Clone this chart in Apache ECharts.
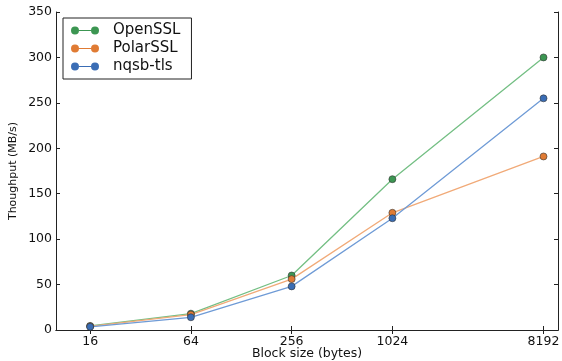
<!DOCTYPE html>
<html>
<head>
<meta charset="utf-8">
<script src="https://cdn.jsdelivr.net/npm/echarts@6/dist/echarts.min.js"></script>
<style>
  html, body { margin: 0; padding: 0; background: #fff; }
  #chart { width: 562px; height: 361px; }
</style>
</head>
<body>
<div id="chart"></div>
<script>
var blockSizes = [16, 64, 256, 1024, 8192];
var openssl = [4.5, 18, 60, 166, 300];
var polarssl = [4, 17, 56, 129, 191];
var nqsb = [3.5, 14, 48, 123, 255];

var myChart = echarts.init(document.getElementById('chart'));

function pairs(xs, ys) {
    var out = [];
    for (var i = 0; i < xs.length; i++) {
        out.push([xs[i], ys[i]]);
    }
    return out;
}

// two dots joined by a line, like the matplotlib legend handle
var legendIcon = 'path://M0,4a4,4 0 1,0 8,0a4,4 0 1,0 -8,0Z M20,4a4,4 0 1,0 8,0a4,4 0 1,0 -8,0Z M8,3.5h12v1h-12Z';

var font = 'DejaVu Sans';

var xBase = {
    type: 'log',
    logBase: 2,
    min: 10,
    max: 10000,
    splitLine: {show: false},
    axisLine: {lineStyle: {color: '#222', width: 1}},
    axisTick: {inside: true, length: 4, customValues: blockSizes, lineStyle: {color: '#222'}},
    minorTick: {show: false}
};

var yBase = {
    type: 'value',
    min: 0,
    max: 350,
    interval: 50,
    splitLine: {show: false},
    axisLine: {show: true, lineStyle: {color: '#222', width: 1}},
    axisTick: {show: true, inside: true, length: 4, lineStyle: {color: '#222'}}
};

function series(name, data, marker, line) {
    return {
        name: name,
        type: 'line',
        data: pairs(blockSizes, data),
        symbol: 'circle',
        symbolSize: 7,
        color: marker,
        itemStyle: {color: marker, borderColor: '#333', borderWidth: 0.6},
        lineStyle: {color: line, width: 1.3},
        z: 3
    };
}

var option = {
    animation: false,
    backgroundColor: '#fff',
    grid: {left: 56, right: 4, top: 12, bottom: 31, outerBoundsMode: 'none', containLabel: false},
    legend: {
        left: 63,
        top: 18,
        orient: 'vertical',
        icon: legendIcon,
        itemWidth: 28,
        itemHeight: 8,
        itemGap: 3,
        padding: [5, 11, 5, 8],
        borderColor: '#222',
        borderWidth: 1,
        backgroundColor: '#fff',
        itemStyle: {borderWidth: 0},
        textStyle: {fontFamily: font, fontSize: 15, color: '#111', padding: [0, 0, 0, 9]},
        data: ['OpenSSL', 'PolarSSL', 'nqsb-tls']
    },
    xAxis: [
        Object.assign({}, xBase, {
            position: 'bottom',
            name: 'Block size (bytes)',
            nameLocation: 'middle',
            nameGap: 17,
            nameMoveOverlap: false,
            nameTextStyle: {fontFamily: font, fontSize: 12.5, color: '#111'},
            axisLabel: {
                customValues: blockSizes,
                fontFamily: font, fontSize: 12.5, color: '#111', margin: 5,
                formatter: function (v) { return String(Math.round(v)); }
            }
        }),
        Object.assign({}, xBase, {
            position: 'top',
            axisLabel: {show: false}
        })
    ],
    yAxis: [
        Object.assign({}, yBase, {
            position: 'left',
            name: 'Thoughput (MB/s)',
            nameLocation: 'middle',
            nameGap: 37,
            nameMoveOverlap: false,
            nameTextStyle: {fontFamily: font, fontSize: 11, color: '#111'},
            axisLabel: {fontFamily: font, fontSize: 12.5, color: '#111', margin: 4}
        }),
        Object.assign({}, yBase, {
            position: 'right',
            axisLabel: {show: false}
        })
    ],
    series: [
        series('OpenSSL', openssl, '#3c9652', '#74bf84'),
        series('PolarSSL', polarssl, '#e07b34', '#f1aa78'),
        series('nqsb-tls', nqsb, '#3a6db5', '#6f9bd6')
    ]
};

myChart.setOption(option);
</script>
</body>
</html>
